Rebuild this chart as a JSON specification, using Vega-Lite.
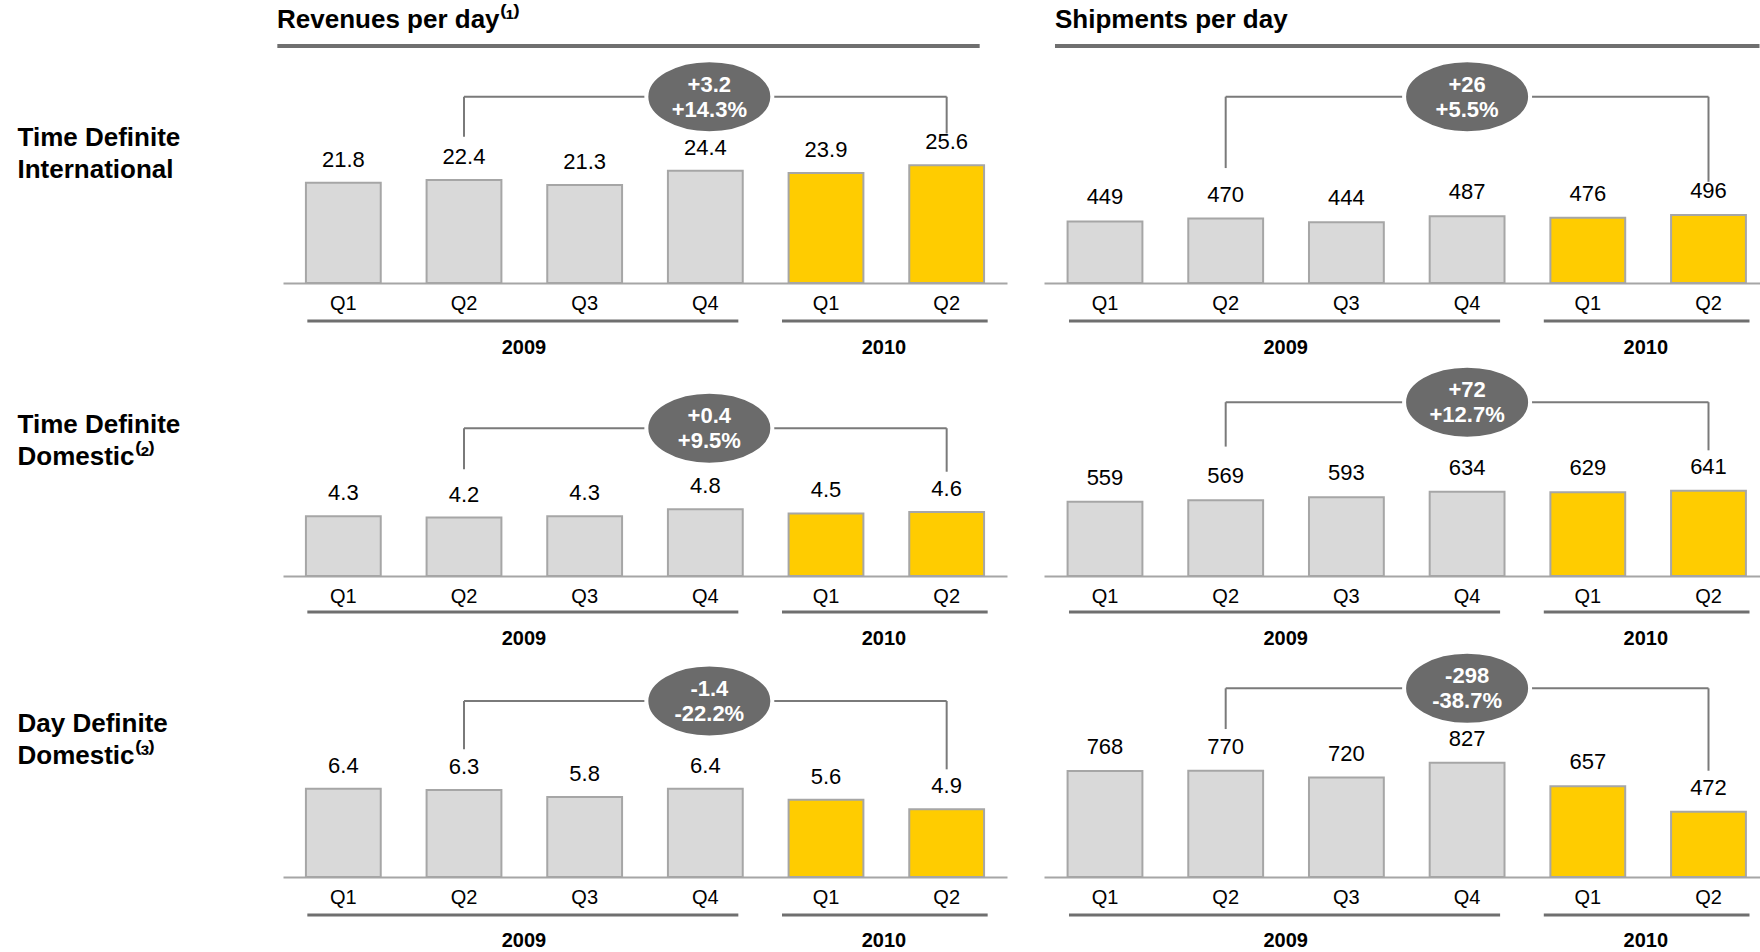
{
  "$schema": "https://vega.github.io/schema/vega-lite/v6.json",
  "padding": {"left": 17, "top": 7, "right": 0, "bottom": 0},
  "background": "#ffffff",
  "datasets": {
    "bars": [
      {"metric": "Revenues", "product": "TDI", "period": "2009 Q1", "year": "2009", "value": 21.8},
      {"metric": "Revenues", "product": "TDI", "period": "2009 Q2", "year": "2009", "value": 22.4},
      {"metric": "Revenues", "product": "TDI", "period": "2009 Q3", "year": "2009", "value": 21.3},
      {"metric": "Revenues", "product": "TDI", "period": "2009 Q4", "year": "2009", "value": 24.4},
      {"metric": "Revenues", "product": "TDI", "period": "2010 Q1", "year": "2010", "value": 23.9},
      {"metric": "Revenues", "product": "TDI", "period": "2010 Q2", "year": "2010", "value": 25.6},
      {"metric": "Shipments", "product": "TDI", "period": "2009 Q1", "year": "2009", "value": 449},
      {"metric": "Shipments", "product": "TDI", "period": "2009 Q2", "year": "2009", "value": 470},
      {"metric": "Shipments", "product": "TDI", "period": "2009 Q3", "year": "2009", "value": 444},
      {"metric": "Shipments", "product": "TDI", "period": "2009 Q4", "year": "2009", "value": 487},
      {"metric": "Shipments", "product": "TDI", "period": "2010 Q1", "year": "2010", "value": 476},
      {"metric": "Shipments", "product": "TDI", "period": "2010 Q2", "year": "2010", "value": 496},
      {"metric": "Revenues", "product": "TDD", "period": "2009 Q1", "year": "2009", "value": 4.3},
      {"metric": "Revenues", "product": "TDD", "period": "2009 Q2", "year": "2009", "value": 4.2},
      {"metric": "Revenues", "product": "TDD", "period": "2009 Q3", "year": "2009", "value": 4.3},
      {"metric": "Revenues", "product": "TDD", "period": "2009 Q4", "year": "2009", "value": 4.8},
      {"metric": "Revenues", "product": "TDD", "period": "2010 Q1", "year": "2010", "value": 4.5},
      {"metric": "Revenues", "product": "TDD", "period": "2010 Q2", "year": "2010", "value": 4.6},
      {"metric": "Shipments", "product": "TDD", "period": "2009 Q1", "year": "2009", "value": 559},
      {"metric": "Shipments", "product": "TDD", "period": "2009 Q2", "year": "2009", "value": 569},
      {"metric": "Shipments", "product": "TDD", "period": "2009 Q3", "year": "2009", "value": 593},
      {"metric": "Shipments", "product": "TDD", "period": "2009 Q4", "year": "2009", "value": 634},
      {"metric": "Shipments", "product": "TDD", "period": "2010 Q1", "year": "2010", "value": 629},
      {"metric": "Shipments", "product": "TDD", "period": "2010 Q2", "year": "2010", "value": 641},
      {"metric": "Revenues", "product": "DDD", "period": "2009 Q1", "year": "2009", "value": 6.4},
      {"metric": "Revenues", "product": "DDD", "period": "2009 Q2", "year": "2009", "value": 6.3},
      {"metric": "Revenues", "product": "DDD", "period": "2009 Q3", "year": "2009", "value": 5.8},
      {"metric": "Revenues", "product": "DDD", "period": "2009 Q4", "year": "2009", "value": 6.4},
      {"metric": "Revenues", "product": "DDD", "period": "2010 Q1", "year": "2010", "value": 5.6},
      {"metric": "Revenues", "product": "DDD", "period": "2010 Q2", "year": "2010", "value": 4.9},
      {"metric": "Shipments", "product": "DDD", "period": "2009 Q1", "year": "2009", "value": 768},
      {"metric": "Shipments", "product": "DDD", "period": "2009 Q2", "year": "2009", "value": 770},
      {"metric": "Shipments", "product": "DDD", "period": "2009 Q3", "year": "2009", "value": 720},
      {"metric": "Shipments", "product": "DDD", "period": "2009 Q4", "year": "2009", "value": 827},
      {"metric": "Shipments", "product": "DDD", "period": "2010 Q1", "year": "2010", "value": 657},
      {"metric": "Shipments", "product": "DDD", "period": "2010 Q2", "year": "2010", "value": 472}
    ],
    "changes": [
      {"metric": "Revenues", "product": "TDI", "delta": "+3.2", "pct": "+14.3%"},
      {"metric": "Shipments", "product": "TDI", "delta": "+26", "pct": "+5.5%"},
      {"metric": "Revenues", "product": "TDD", "delta": "+0.4", "pct": "+9.5%"},
      {"metric": "Shipments", "product": "TDD", "delta": "+72", "pct": "+12.7%"},
      {"metric": "Revenues", "product": "DDD", "delta": "-1.4", "pct": "-22.2%"},
      {"metric": "Shipments", "product": "DDD", "delta": "-298", "pct": "-38.7%"}
    ]
  },
  "columns": 2,
  "spacing": {"row": 60, "column": 37},
  "bounds": "flush",
  "concat": [
    {
      "width": 724, "height": 237,
      "title": {"text": "Revenues per day⁽¹⁾", "anchor": "start", "frame": "group", "baseline": "alphabetic", "offset": -10, "dx": -6, "fontSize": 26, "font": "Liberation Sans", "fontWeight": "bold", "color": "#000000"},
      "layer": [
        {
          "data": {"name": "bars"},
          "transform": [{"filter": "datum.metric == 'Revenues' && datum.product == 'TDI'"}],
          "layer": [
            {"mark": {"type": "bar", "stroke": "#a6a6a6", "strokeWidth": 2},
             "encoding": {
               "x": {"field": "period", "type": "nominal", "scale": {"paddingInner": 0.38, "paddingOuter": 0.19}, "axis": {"title": null, "labelExpr": "slice(datum.label, 5)"}},
               "y": {"field": "value", "type": "quantitative", "scale": {"domain": [0, 51.52], "nice": false},
                     "axis": {"title": ["Time Definite", "International"], "titleX": -266, "titleY": 91}},
               "color": {"field": "year", "type": "nominal", "scale": {"domain": ["2009", "2010"], "range": ["#d9d9d9", "#ffcc00"]}, "legend": null}
             }},
            {"mark": {"type": "text", "dy": -23, "baseline": "middle", "fontSize": 22, "font": "Liberation Sans", "color": "#000000"},
             "encoding": {"x": {"field": "period", "type": "nominal"}, "y": {"field": "value", "type": "quantitative"}, "text": {"field": "value", "type": "quantitative"}}}
          ]
        },
        {
          "data": {"name": "changes"},
          "transform": [{"filter": "datum.metric == 'Revenues' && datum.product == 'TDI'"}],
          "layer": [
            {"mark": {"type": "rule", "color": "#6f6f6f", "strokeWidth": 4, "xOffset": -66, "x2Offset": 33},
             "encoding": {"x": {"datum": "2009 Q1"}, "x2": {"datum": "2010 Q2"}, "y": {"datum": 51.52}}},
            {"mark": {"type": "rule", "color": "#6f6f6f", "strokeWidth": 3, "xOffset": -36, "x2Offset": 33, "yOffset": 38},
             "encoding": {"x": {"datum": "2009 Q1"}, "x2": {"datum": "2009 Q4"}, "y": {"datum": 0}}},
            {"mark": {"type": "rule", "color": "#6f6f6f", "strokeWidth": 3, "xOffset": -44, "x2Offset": 41, "yOffset": 38},
             "encoding": {"x": {"datum": "2010 Q1"}, "x2": {"datum": "2010 Q2"}, "y": {"datum": 0}}},
            {"mark": {"type": "text", "fontSize": 20, "fontWeight": "bold", "font": "Liberation Sans", "color": "#000000", "xOffset": 60, "yOffset": 65, "baseline": "middle"},
             "encoding": {"x": {"datum": "2009 Q2"}, "y": {"datum": 0}, "text": {"value": "2009"}}},
            {"mark": {"type": "text", "fontSize": 20, "fontWeight": "bold", "font": "Liberation Sans", "color": "#000000", "xOffset": 58, "yOffset": 65, "baseline": "middle"},
             "encoding": {"x": {"datum": "2010 Q1"}, "y": {"datum": 0}, "text": {"value": "2010"}}},
            {"mark": {"type": "rule", "color": "#7a7a7a", "strokeWidth": 2},
             "encoding": {"x": {"datum": "2009 Q2"}, "x2": {"datum": "2010 Q2"}, "y": {"datum": 40.5}}},
            {"mark": {"type": "rule", "color": "#7a7a7a", "strokeWidth": 2},
             "encoding": {"x": {"datum": "2009 Q2"}, "y": {"datum": 40.5}, "y2": {"datum": 31.8}}},
            {"mark": {"type": "rule", "color": "#7a7a7a", "strokeWidth": 2},
             "encoding": {"x": {"datum": "2010 Q2"}, "y": {"datum": 40.5}, "y2": {"datum": 32.5}}},
            {"mark": {"type": "point", "shape": "M-1,0A1,0.58,0,1,0,1,0A1,0.58,0,1,0,-1,0Z", "filled": true, "fill": "#6b6b6b", "stroke": "#ffffff", "strokeWidth": 4, "size": 15876, "opacity": 1, "xOffset": 4},
             "encoding": {"x": {"datum": "2009 Q4"}, "y": {"datum": 40.5}}},
            {"mark": {"type": "text", "fontSize": 22, "fontWeight": "bold", "font": "Liberation Sans", "color": "#ffffff", "xOffset": 4, "dy": -12, "baseline": "middle"},
             "encoding": {"x": {"datum": "2009 Q4"}, "y": {"datum": 40.5}, "text": {"field": "delta"}}},
            {"mark": {"type": "text", "fontSize": 22, "fontWeight": "bold", "font": "Liberation Sans", "color": "#ffffff", "xOffset": 4, "dy": 13, "baseline": "middle"},
             "encoding": {"x": {"datum": "2009 Q4"}, "y": {"datum": 40.5}, "text": {"field": "pct"}}}
          ]
        }
      ]
    },
    {
      "width": 716, "height": 237,
      "title": {"text": "Shipments per day", "anchor": "start", "frame": "group", "baseline": "alphabetic", "offset": -10, "dx": 11, "fontSize": 26, "font": "Liberation Sans", "fontWeight": "bold", "color": "#000000"},
      "layer": [
        {
          "data": {"name": "bars"},
          "transform": [{"filter": "datum.metric == 'Shipments' && datum.product == 'TDI'"}],
          "layer": [
            {"mark": {"type": "bar", "stroke": "#a6a6a6", "strokeWidth": 2},
             "encoding": {
               "x": {"field": "period", "type": "nominal", "scale": {"paddingInner": 0.38, "paddingOuter": 0.156, "align": 0.626}, "axis": {"title": null, "labelExpr": "slice(datum.label, 5)"}},
               "y": {"field": "value", "type": "quantitative", "scale": {"domain": [0, 1730], "nice": false}, "axis": {"title": null}},
               "color": {"field": "year", "type": "nominal", "scale": {"domain": ["2009", "2010"], "range": ["#d9d9d9", "#ffcc00"]}, "legend": null}
             }},
            {"mark": {"type": "text", "dy": -24, "baseline": "middle", "fontSize": 22, "font": "Liberation Sans", "color": "#000000"},
             "encoding": {"x": {"field": "period", "type": "nominal"}, "y": {"field": "value", "type": "quantitative"}, "text": {"field": "value", "type": "quantitative"}}}
          ]
        },
        {
          "data": {"name": "changes"},
          "transform": [{"filter": "datum.metric == 'Shipments' && datum.product == 'TDI'"}],
          "layer": [
            {"mark": {"type": "rule", "color": "#6f6f6f", "strokeWidth": 4, "xOffset": -50, "x2Offset": 51},
             "encoding": {"x": {"datum": "2009 Q1"}, "x2": {"datum": "2010 Q2"}, "y": {"datum": 1730}}},
            {"mark": {"type": "rule", "color": "#6f6f6f", "strokeWidth": 3, "xOffset": -36, "x2Offset": 33, "yOffset": 38},
             "encoding": {"x": {"datum": "2009 Q1"}, "x2": {"datum": "2009 Q4"}, "y": {"datum": 0}}},
            {"mark": {"type": "rule", "color": "#6f6f6f", "strokeWidth": 3, "xOffset": -44, "x2Offset": 41, "yOffset": 38},
             "encoding": {"x": {"datum": "2010 Q1"}, "x2": {"datum": "2010 Q2"}, "y": {"datum": 0}}},
            {"mark": {"type": "text", "fontSize": 20, "fontWeight": "bold", "font": "Liberation Sans", "color": "#000000", "xOffset": 60, "yOffset": 65, "baseline": "middle"},
             "encoding": {"x": {"datum": "2009 Q2"}, "y": {"datum": 0}, "text": {"value": "2009"}}},
            {"mark": {"type": "text", "fontSize": 20, "fontWeight": "bold", "font": "Liberation Sans", "color": "#000000", "xOffset": 58, "yOffset": 65, "baseline": "middle"},
             "encoding": {"x": {"datum": "2010 Q1"}, "y": {"datum": 0}, "text": {"value": "2010"}}},
            {"mark": {"type": "rule", "color": "#7a7a7a", "strokeWidth": 2},
             "encoding": {"x": {"datum": "2009 Q2"}, "x2": {"datum": "2010 Q2"}, "y": {"datum": 1360}}},
            {"mark": {"type": "rule", "color": "#7a7a7a", "strokeWidth": 2},
             "encoding": {"x": {"datum": "2009 Q2"}, "y": {"datum": 1360}, "y2": {"datum": 839}}},
            {"mark": {"type": "rule", "color": "#7a7a7a", "strokeWidth": 2},
             "encoding": {"x": {"datum": "2010 Q2"}, "y": {"datum": 1360}, "y2": {"datum": 739}}},
            {"mark": {"type": "point", "shape": "M-1,0A1,0.58,0,1,0,1,0A1,0.58,0,1,0,-1,0Z", "filled": true, "fill": "#6b6b6b", "stroke": "#ffffff", "strokeWidth": 4, "size": 15876, "opacity": 1},
             "encoding": {"x": {"datum": "2009 Q4"}, "y": {"datum": 1360}}},
            {"mark": {"type": "text", "fontSize": 22, "fontWeight": "bold", "font": "Liberation Sans", "color": "#ffffff", "dy": -12, "baseline": "middle"},
             "encoding": {"x": {"datum": "2009 Q4"}, "y": {"datum": 1360}, "text": {"field": "delta"}}},
            {"mark": {"type": "text", "fontSize": 22, "fontWeight": "bold", "font": "Liberation Sans", "color": "#ffffff", "dy": 13, "baseline": "middle"},
             "encoding": {"x": {"datum": "2009 Q4"}, "y": {"datum": 1360}, "text": {"field": "pct"}}}
          ]
        }
      ]
    },
    {
      "width": 724, "height": 233,
      "layer": [
        {
          "data": {"name": "bars"},
          "transform": [{"filter": "datum.metric == 'Revenues' && datum.product == 'TDD'"}],
          "layer": [
            {"mark": {"type": "bar", "stroke": "#a6a6a6", "strokeWidth": 2},
             "encoding": {
               "x": {"field": "period", "type": "nominal", "scale": {"paddingInner": 0.38, "paddingOuter": 0.19}, "axis": {"title": null, "labelExpr": "slice(datum.label, 5)"}},
               "y": {"field": "value", "type": "quantitative", "scale": {"domain": [0, 16.76], "nice": false},
                     "axis": {"title": ["Time Definite", "Domestic⁽²⁾"], "titleX": -266, "titleY": 81}},
               "color": {"field": "year", "type": "nominal", "scale": {"domain": ["2009", "2010"], "range": ["#d9d9d9", "#ffcc00"]}, "legend": null}
             }},
            {"mark": {"type": "text", "dy": -23, "baseline": "middle", "fontSize": 22, "font": "Liberation Sans", "color": "#000000"},
             "encoding": {"x": {"field": "period", "type": "nominal"}, "y": {"field": "value", "type": "quantitative"}, "text": {"field": "value", "type": "quantitative"}}}
          ]
        },
        {
          "data": {"name": "changes"},
          "transform": [{"filter": "datum.metric == 'Revenues' && datum.product == 'TDD'"}],
          "layer": [
            {"mark": {"type": "rule", "color": "#6f6f6f", "strokeWidth": 3, "xOffset": -36, "x2Offset": 33, "yOffset": 36},
             "encoding": {"x": {"datum": "2009 Q1"}, "x2": {"datum": "2009 Q4"}, "y": {"datum": 0}}},
            {"mark": {"type": "rule", "color": "#6f6f6f", "strokeWidth": 3, "xOffset": -44, "x2Offset": 41, "yOffset": 36},
             "encoding": {"x": {"datum": "2010 Q1"}, "x2": {"datum": "2010 Q2"}, "y": {"datum": 0}}},
            {"mark": {"type": "text", "fontSize": 20, "fontWeight": "bold", "font": "Liberation Sans", "color": "#000000", "xOffset": 60, "yOffset": 63, "baseline": "middle"},
             "encoding": {"x": {"datum": "2009 Q2"}, "y": {"datum": 0}, "text": {"value": "2009"}}},
            {"mark": {"type": "text", "fontSize": 20, "fontWeight": "bold", "font": "Liberation Sans", "color": "#000000", "xOffset": 58, "yOffset": 63, "baseline": "middle"},
             "encoding": {"x": {"datum": "2010 Q1"}, "y": {"datum": 0}, "text": {"value": "2010"}}},
            {"mark": {"type": "rule", "color": "#7a7a7a", "strokeWidth": 2},
             "encoding": {"x": {"datum": "2009 Q2"}, "x2": {"datum": "2010 Q2"}, "y": {"datum": 10.63}}},
            {"mark": {"type": "rule", "color": "#7a7a7a", "strokeWidth": 2},
             "encoding": {"x": {"datum": "2009 Q2"}, "y": {"datum": 10.63}, "y2": {"datum": 7.68}}},
            {"mark": {"type": "rule", "color": "#7a7a7a", "strokeWidth": 2},
             "encoding": {"x": {"datum": "2010 Q2"}, "y": {"datum": 10.63}, "y2": {"datum": 7.5}}},
            {"mark": {"type": "point", "shape": "M-1,0A1,0.58,0,1,0,1,0A1,0.58,0,1,0,-1,0Z", "filled": true, "fill": "#6b6b6b", "stroke": "#ffffff", "strokeWidth": 4, "size": 15876, "opacity": 1, "xOffset": 4},
             "encoding": {"x": {"datum": "2009 Q4"}, "y": {"datum": 10.63}}},
            {"mark": {"type": "text", "fontSize": 22, "fontWeight": "bold", "font": "Liberation Sans", "color": "#ffffff", "xOffset": 4, "dy": -12, "baseline": "middle"},
             "encoding": {"x": {"datum": "2009 Q4"}, "y": {"datum": 10.63}, "text": {"field": "delta"}}},
            {"mark": {"type": "text", "fontSize": 22, "fontWeight": "bold", "font": "Liberation Sans", "color": "#ffffff", "xOffset": 4, "dy": 13, "baseline": "middle"},
             "encoding": {"x": {"datum": "2009 Q4"}, "y": {"datum": 10.63}, "text": {"field": "pct"}}}
          ]
        }
      ]
    },
    {
      "width": 716, "height": 233,
      "layer": [
        {
          "data": {"name": "bars"},
          "transform": [{"filter": "datum.metric == 'Shipments' && datum.product == 'TDD'"}],
          "layer": [
            {"mark": {"type": "bar", "stroke": "#a6a6a6", "strokeWidth": 2},
             "encoding": {
               "x": {"field": "period", "type": "nominal", "scale": {"paddingInner": 0.38, "paddingOuter": 0.156, "align": 0.626}, "axis": {"title": null, "labelExpr": "slice(datum.label, 5)"}},
               "y": {"field": "value", "type": "quantitative", "scale": {"domain": [0, 1752], "nice": false}, "axis": {"title": null}},
               "color": {"field": "year", "type": "nominal", "scale": {"domain": ["2009", "2010"], "range": ["#d9d9d9", "#ffcc00"]}, "legend": null}
             }},
            {"mark": {"type": "text", "dy": -24, "baseline": "middle", "fontSize": 22, "font": "Liberation Sans", "color": "#000000"},
             "encoding": {"x": {"field": "period", "type": "nominal"}, "y": {"field": "value", "type": "quantitative"}, "text": {"field": "value", "type": "quantitative"}}}
          ]
        },
        {
          "data": {"name": "changes"},
          "transform": [{"filter": "datum.metric == 'Shipments' && datum.product == 'TDD'"}],
          "layer": [
            {"mark": {"type": "rule", "color": "#6f6f6f", "strokeWidth": 3, "xOffset": -36, "x2Offset": 33, "yOffset": 36},
             "encoding": {"x": {"datum": "2009 Q1"}, "x2": {"datum": "2009 Q4"}, "y": {"datum": 0}}},
            {"mark": {"type": "rule", "color": "#6f6f6f", "strokeWidth": 3, "xOffset": -44, "x2Offset": 41, "yOffset": 36},
             "encoding": {"x": {"datum": "2010 Q1"}, "x2": {"datum": "2010 Q2"}, "y": {"datum": 0}}},
            {"mark": {"type": "text", "fontSize": 20, "fontWeight": "bold", "font": "Liberation Sans", "color": "#000000", "xOffset": 60, "yOffset": 63, "baseline": "middle"},
             "encoding": {"x": {"datum": "2009 Q2"}, "y": {"datum": 0}, "text": {"value": "2009"}}},
            {"mark": {"type": "text", "fontSize": 20, "fontWeight": "bold", "font": "Liberation Sans", "color": "#000000", "xOffset": 58, "yOffset": 63, "baseline": "middle"},
             "encoding": {"x": {"datum": "2010 Q1"}, "y": {"datum": 0}, "text": {"value": "2010"}}},
            {"mark": {"type": "rule", "color": "#7a7a7a", "strokeWidth": 2},
             "encoding": {"x": {"datum": "2009 Q2"}, "x2": {"datum": "2010 Q2"}, "y": {"datum": 1307}}},
            {"mark": {"type": "rule", "color": "#7a7a7a", "strokeWidth": 2},
             "encoding": {"x": {"datum": "2009 Q2"}, "y": {"datum": 1307}, "y2": {"datum": 973}}},
            {"mark": {"type": "rule", "color": "#7a7a7a", "strokeWidth": 2},
             "encoding": {"x": {"datum": "2010 Q2"}, "y": {"datum": 1307}, "y2": {"datum": 945}}},
            {"mark": {"type": "point", "shape": "M-1,0A1,0.58,0,1,0,1,0A1,0.58,0,1,0,-1,0Z", "filled": true, "fill": "#6b6b6b", "stroke": "#ffffff", "strokeWidth": 4, "size": 15876, "opacity": 1},
             "encoding": {"x": {"datum": "2009 Q4"}, "y": {"datum": 1307}}},
            {"mark": {"type": "text", "fontSize": 22, "fontWeight": "bold", "font": "Liberation Sans", "color": "#ffffff", "dy": -12, "baseline": "middle"},
             "encoding": {"x": {"datum": "2009 Q4"}, "y": {"datum": 1307}, "text": {"field": "delta"}}},
            {"mark": {"type": "text", "fontSize": 22, "fontWeight": "bold", "font": "Liberation Sans", "color": "#ffffff", "dy": 13, "baseline": "middle"},
             "encoding": {"x": {"datum": "2009 Q4"}, "y": {"datum": 1307}, "text": {"field": "pct"}}}
          ]
        }
      ]
    },
    {
      "width": 724, "height": 241,
      "layer": [
        {
          "data": {"name": "bars"},
          "transform": [{"filter": "datum.metric == 'Revenues' && datum.product == 'DDD'"}],
          "layer": [
            {"mark": {"type": "bar", "stroke": "#a6a6a6", "strokeWidth": 2},
             "encoding": {
               "x": {"field": "period", "type": "nominal", "scale": {"paddingInner": 0.38, "paddingOuter": 0.19}, "axis": {"title": null, "labelExpr": "slice(datum.label, 5)"}},
               "y": {"field": "value", "type": "quantitative", "scale": {"domain": [0, 17.46], "nice": false},
                     "axis": {"title": ["Day Definite", "Domestic⁽³⁾"], "titleX": -266, "titleY": 87}},
               "color": {"field": "year", "type": "nominal", "scale": {"domain": ["2009", "2010"], "range": ["#d9d9d9", "#ffcc00"]}, "legend": null}
             }},
            {"mark": {"type": "text", "dy": -23, "baseline": "middle", "fontSize": 22, "font": "Liberation Sans", "color": "#000000"},
             "encoding": {"x": {"field": "period", "type": "nominal"}, "y": {"field": "value", "type": "quantitative"}, "text": {"field": "value", "type": "quantitative"}}}
          ]
        },
        {
          "data": {"name": "changes"},
          "transform": [{"filter": "datum.metric == 'Revenues' && datum.product == 'DDD'"}],
          "layer": [
            {"mark": {"type": "rule", "color": "#6f6f6f", "strokeWidth": 3, "xOffset": -36, "x2Offset": 33, "yOffset": 38},
             "encoding": {"x": {"datum": "2009 Q1"}, "x2": {"datum": "2009 Q4"}, "y": {"datum": 0}}},
            {"mark": {"type": "rule", "color": "#6f6f6f", "strokeWidth": 3, "xOffset": -44, "x2Offset": 41, "yOffset": 38},
             "encoding": {"x": {"datum": "2010 Q1"}, "x2": {"datum": "2010 Q2"}, "y": {"datum": 0}}},
            {"mark": {"type": "text", "fontSize": 20, "fontWeight": "bold", "font": "Liberation Sans", "color": "#000000", "xOffset": 60, "yOffset": 64, "baseline": "middle"},
             "encoding": {"x": {"datum": "2009 Q2"}, "y": {"datum": 0}, "text": {"value": "2009"}}},
            {"mark": {"type": "text", "fontSize": 20, "fontWeight": "bold", "font": "Liberation Sans", "color": "#000000", "xOffset": 58, "yOffset": 64, "baseline": "middle"},
             "encoding": {"x": {"datum": "2010 Q1"}, "y": {"datum": 0}, "text": {"value": "2010"}}},
            {"mark": {"type": "rule", "color": "#7a7a7a", "strokeWidth": 2},
             "encoding": {"x": {"datum": "2009 Q2"}, "x2": {"datum": "2010 Q2"}, "y": {"datum": 12.75}}},
            {"mark": {"type": "rule", "color": "#7a7a7a", "strokeWidth": 2},
             "encoding": {"x": {"datum": "2009 Q2"}, "y": {"datum": 12.75}, "y2": {"datum": 9.25}}},
            {"mark": {"type": "rule", "color": "#7a7a7a", "strokeWidth": 2},
             "encoding": {"x": {"datum": "2010 Q2"}, "y": {"datum": 12.75}, "y2": {"datum": 7.8}}},
            {"mark": {"type": "point", "shape": "M-1,0A1,0.58,0,1,0,1,0A1,0.58,0,1,0,-1,0Z", "filled": true, "fill": "#6b6b6b", "stroke": "#ffffff", "strokeWidth": 4, "size": 15876, "opacity": 1, "xOffset": 4},
             "encoding": {"x": {"datum": "2009 Q4"}, "y": {"datum": 12.75}}},
            {"mark": {"type": "text", "fontSize": 22, "fontWeight": "bold", "font": "Liberation Sans", "color": "#ffffff", "xOffset": 4, "dy": -12, "baseline": "middle"},
             "encoding": {"x": {"datum": "2009 Q4"}, "y": {"datum": 12.75}, "text": {"field": "delta"}}},
            {"mark": {"type": "text", "fontSize": 22, "fontWeight": "bold", "font": "Liberation Sans", "color": "#ffffff", "xOffset": 4, "dy": 13, "baseline": "middle"},
             "encoding": {"x": {"datum": "2009 Q4"}, "y": {"datum": 12.75}, "text": {"field": "pct"}}}
          ]
        }
      ]
    },
    {
      "width": 716, "height": 241,
      "layer": [
        {
          "data": {"name": "bars"},
          "transform": [{"filter": "datum.metric == 'Shipments' && datum.product == 'DDD'"}],
          "layer": [
            {"mark": {"type": "bar", "stroke": "#a6a6a6", "strokeWidth": 2},
             "encoding": {
               "x": {"field": "period", "type": "nominal", "scale": {"paddingInner": 0.38, "paddingOuter": 0.156, "align": 0.626}, "axis": {"title": null, "labelExpr": "slice(datum.label, 5)"}},
               "y": {"field": "value", "type": "quantitative", "scale": {"domain": [0, 1746], "nice": false}, "axis": {"title": null}},
               "color": {"field": "year", "type": "nominal", "scale": {"domain": ["2009", "2010"], "range": ["#d9d9d9", "#ffcc00"]}, "legend": null}
             }},
            {"mark": {"type": "text", "dy": -24, "baseline": "middle", "fontSize": 22, "font": "Liberation Sans", "color": "#000000"},
             "encoding": {"x": {"field": "period", "type": "nominal"}, "y": {"field": "value", "type": "quantitative"}, "text": {"field": "value", "type": "quantitative"}}}
          ]
        },
        {
          "data": {"name": "changes"},
          "transform": [{"filter": "datum.metric == 'Shipments' && datum.product == 'DDD'"}],
          "layer": [
            {"mark": {"type": "rule", "color": "#6f6f6f", "strokeWidth": 3, "xOffset": -36, "x2Offset": 33, "yOffset": 38},
             "encoding": {"x": {"datum": "2009 Q1"}, "x2": {"datum": "2009 Q4"}, "y": {"datum": 0}}},
            {"mark": {"type": "rule", "color": "#6f6f6f", "strokeWidth": 3, "xOffset": -44, "x2Offset": 41, "yOffset": 38},
             "encoding": {"x": {"datum": "2010 Q1"}, "x2": {"datum": "2010 Q2"}, "y": {"datum": 0}}},
            {"mark": {"type": "text", "fontSize": 20, "fontWeight": "bold", "font": "Liberation Sans", "color": "#000000", "xOffset": 60, "yOffset": 64, "baseline": "middle"},
             "encoding": {"x": {"datum": "2009 Q2"}, "y": {"datum": 0}, "text": {"value": "2009"}}},
            {"mark": {"type": "text", "fontSize": 20, "fontWeight": "bold", "font": "Liberation Sans", "color": "#000000", "xOffset": 58, "yOffset": 64, "baseline": "middle"},
             "encoding": {"x": {"datum": "2010 Q1"}, "y": {"datum": 0}, "text": {"value": "2010"}}},
            {"mark": {"type": "rule", "color": "#7a7a7a", "strokeWidth": 2},
             "encoding": {"x": {"datum": "2009 Q2"}, "x2": {"datum": "2010 Q2"}, "y": {"datum": 1367}}},
            {"mark": {"type": "rule", "color": "#7a7a7a", "strokeWidth": 2},
             "encoding": {"x": {"datum": "2009 Q2"}, "y": {"datum": 1367}, "y2": {"datum": 1072}}},
            {"mark": {"type": "rule", "color": "#7a7a7a", "strokeWidth": 2},
             "encoding": {"x": {"datum": "2010 Q2"}, "y": {"datum": 1367}, "y2": {"datum": 770}}},
            {"mark": {"type": "point", "shape": "M-1,0A1,0.58,0,1,0,1,0A1,0.58,0,1,0,-1,0Z", "filled": true, "fill": "#6b6b6b", "stroke": "#ffffff", "strokeWidth": 4, "size": 15876, "opacity": 1},
             "encoding": {"x": {"datum": "2009 Q4"}, "y": {"datum": 1367}}},
            {"mark": {"type": "text", "fontSize": 22, "fontWeight": "bold", "font": "Liberation Sans", "color": "#ffffff", "dy": -12, "baseline": "middle"},
             "encoding": {"x": {"datum": "2009 Q4"}, "y": {"datum": 1367}, "text": {"field": "delta"}}},
            {"mark": {"type": "text", "fontSize": 22, "fontWeight": "bold", "font": "Liberation Sans", "color": "#ffffff", "dy": 13, "baseline": "middle"},
             "encoding": {"x": {"datum": "2009 Q4"}, "y": {"datum": 1367}, "text": {"field": "pct"}}}
          ]
        }
      ]
    }
  ],
  "config": {
    "view": {"stroke": null},
    "font": "Liberation Sans",
    "axisY": {"labels": false, "ticks": false, "domain": false, "grid": false, "titleAngle": 0, "titleAlign": "left", "titleBaseline": "middle", "titleFontSize": 26, "titleFontWeight": "bold", "titleFont": "Liberation Sans", "titleLineHeight": 32, "titleColor": "#000000"},
    "axisX": {"ticks": false, "tickSize": 0, "grid": false, "labelPadding": 20, "labelBaseline": "middle", "labelAngle": 0, "labelFontSize": 20, "labelFont": "Liberation Sans", "labelColor": "#000000", "domainColor": "#a6a6a6", "domainWidth": 2}
  }
}
